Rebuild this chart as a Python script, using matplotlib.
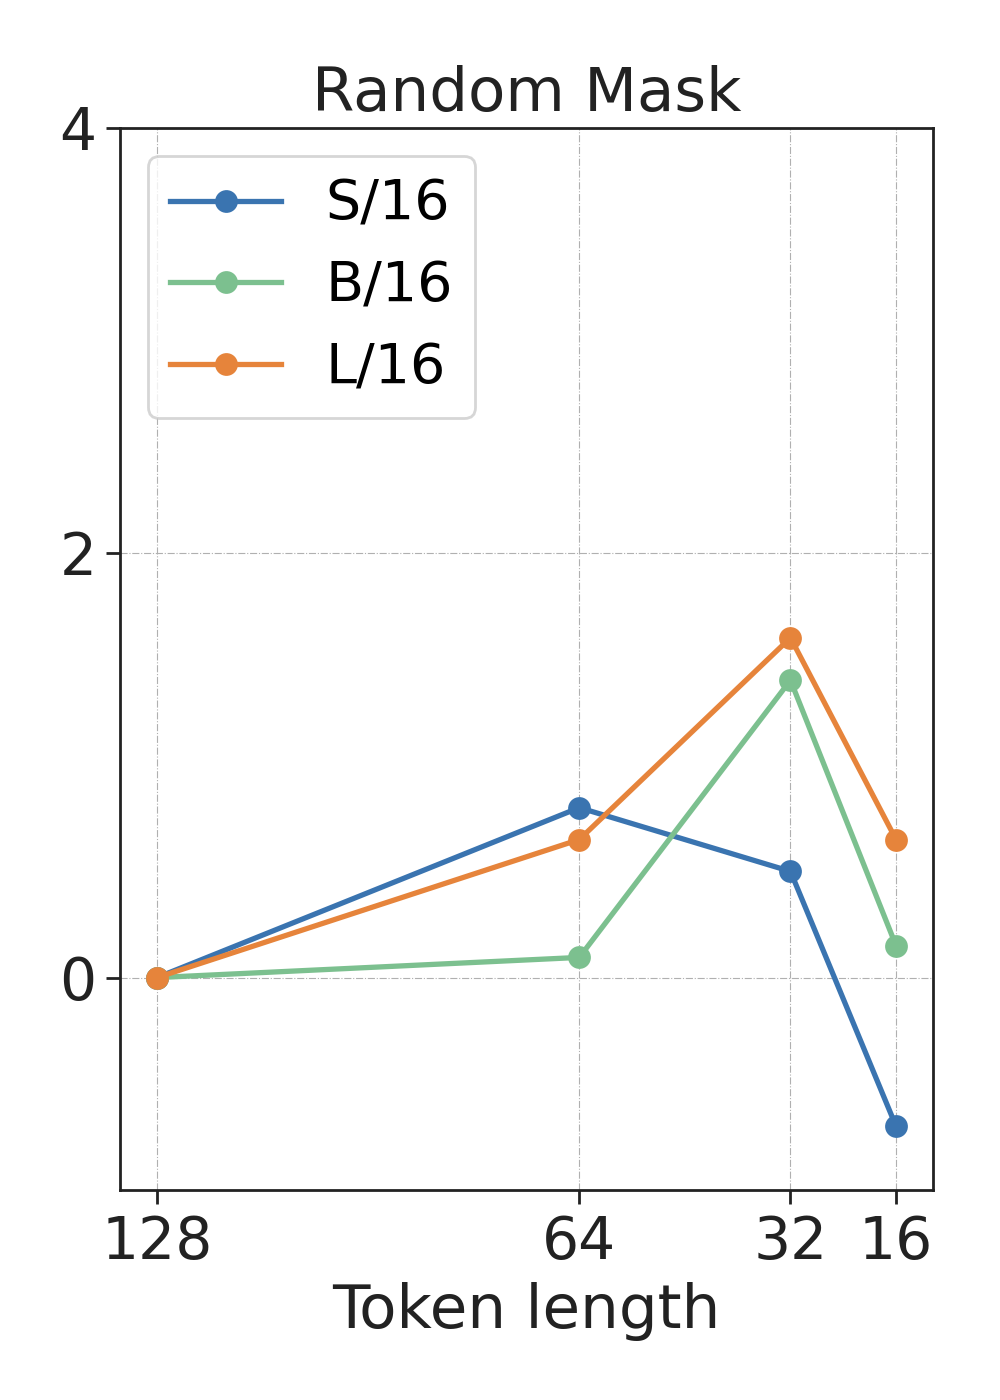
import numpy as np
import matplotlib
matplotlib.use("Agg")
import matplotlib.pyplot as plt

# token lengths and relative change per model
tokens = [128, 64, 32, 16]
s16 = [0.0, 0.80, 0.50, -0.70]
b16 = [0.0, 0.095, 1.40, 0.15]
l16 = [0.0, 0.65, 1.60, 0.65]
labels = ["S/16", "B/16", "L/16"]
colors = ["#3A74B0", "#7CC08F", "#E6843B"]

plt.rcParams["font.family"] = ["DejaVu Sans"]

fig, ax = plt.subplots(figsize=(5, 7), dpi=200)
fig.subplots_adjust(left=0.12, right=0.933, top=0.9086, bottom=0.15)

for ys, lab, c in zip([s16, b16, l16], labels, colors):
    ax.plot(tokens, ys, "-o", color=c, label=lab, linewidth=1.9, markersize=7.2)

ax.set_xticks(tokens)
ax.set_xticklabels([str(t) for t in tokens])
ax.invert_xaxis()
ax.set_ylim(-1, 4)
ax.set_yticks([0, 2, 4])
ax.tick_params(labelsize=21, length=5, width=1.0, colors="#222222")
ax.grid(True, linestyle="-.", linewidth=0.4, color="#b0b0b0")
for sp in ax.spines.values():
    sp.set_linewidth(1.0)
    sp.set_color("#222222")

ax.set_title("Random Mask", fontsize=22, color="#222222")
ax.set_xlabel("Token length", fontsize=22, color="#222222")
leg = ax.legend(loc="upper left", fontsize=20, frameon=True, fancybox=True)
leg.get_frame().set_edgecolor("#cccccc")
leg.get_frame().set_linewidth(1.0)

fig.savefig("out.png", dpi=200)
